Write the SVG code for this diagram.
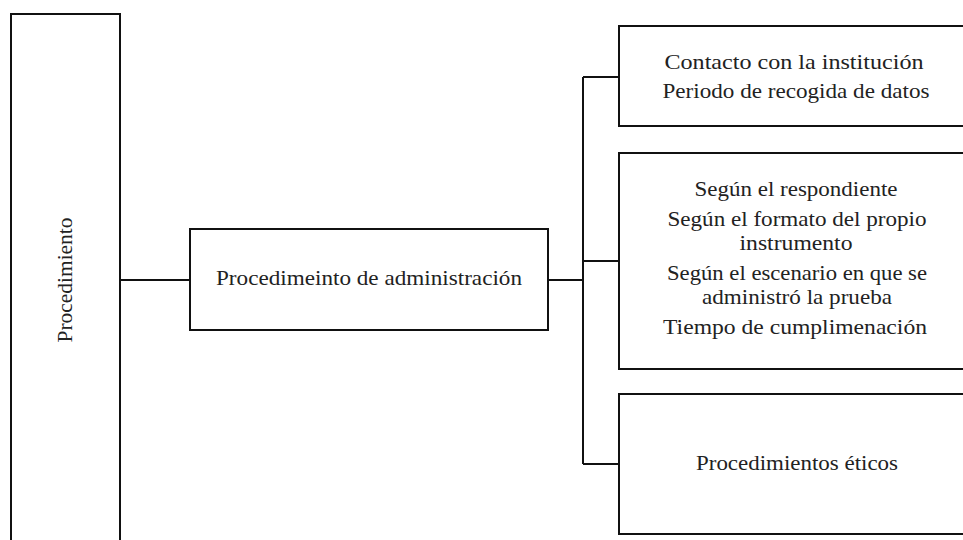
<svg xmlns="http://www.w3.org/2000/svg" width="963" height="540" viewBox="0 0 963 540">
<style>
.box{fill:#fff;stroke:#111;stroke-width:2}
.con{fill:none;stroke:#111;stroke-width:2}
text{font-family:"Liberation Serif","Times New Roman",serif;font-size:21px;fill:#222;text-anchor:middle}
</style>
<rect width="963" height="540" fill="#fff"/>
<g id="connectors">
<path class="con" d="M120 280H190M548 280H583M583 77V464M583 77H619M583 261H619M583 464H619"/>
</g>
<g id="procedimiento">
<rect class="box" x="11" y="14" width="109" height="540"/>
<text transform="translate(72,280) rotate(-90)" x="0" y="0" textLength="125" lengthAdjust="spacingAndGlyphs">Procedimiento</text>
</g>
<g id="administracion">
<rect class="box" x="190" y="229" width="358" height="101"/>
<text x="369" y="285" textLength="306" lengthAdjust="spacingAndGlyphs">Procedimeinto de administración</text>
</g>
<g id="contacto">
<rect class="box" x="619" y="26" width="360" height="100"/>
<text x="794" y="69" textLength="259" lengthAdjust="spacingAndGlyphs">Contacto con la institución</text>
<text x="796" y="98" textLength="267" lengthAdjust="spacingAndGlyphs">Periodo de recogida de datos</text>
</g>
<g id="segun">
<rect class="box" x="619" y="153" width="360" height="216"/>
<text x="796" y="196" textLength="203" lengthAdjust="spacingAndGlyphs">Según el respondiente</text>
<text x="797" y="226" textLength="259" lengthAdjust="spacingAndGlyphs">Según el formato del propio</text>
<text x="796" y="250" textLength="113" lengthAdjust="spacingAndGlyphs">instrumento</text>
<text x="797" y="280" textLength="260" lengthAdjust="spacingAndGlyphs">Según el escenario en que se</text>
<text x="797" y="304" textLength="190" lengthAdjust="spacingAndGlyphs">administró la prueba</text>
<text x="795" y="334" textLength="264" lengthAdjust="spacingAndGlyphs">Tiempo de cumplimenación</text>
</g>
<g id="eticos">
<rect class="box" x="619" y="394" width="360" height="140"/>
<text x="797" y="470" textLength="202" lengthAdjust="spacingAndGlyphs">Procedimientos éticos</text>
</g>
</svg>
